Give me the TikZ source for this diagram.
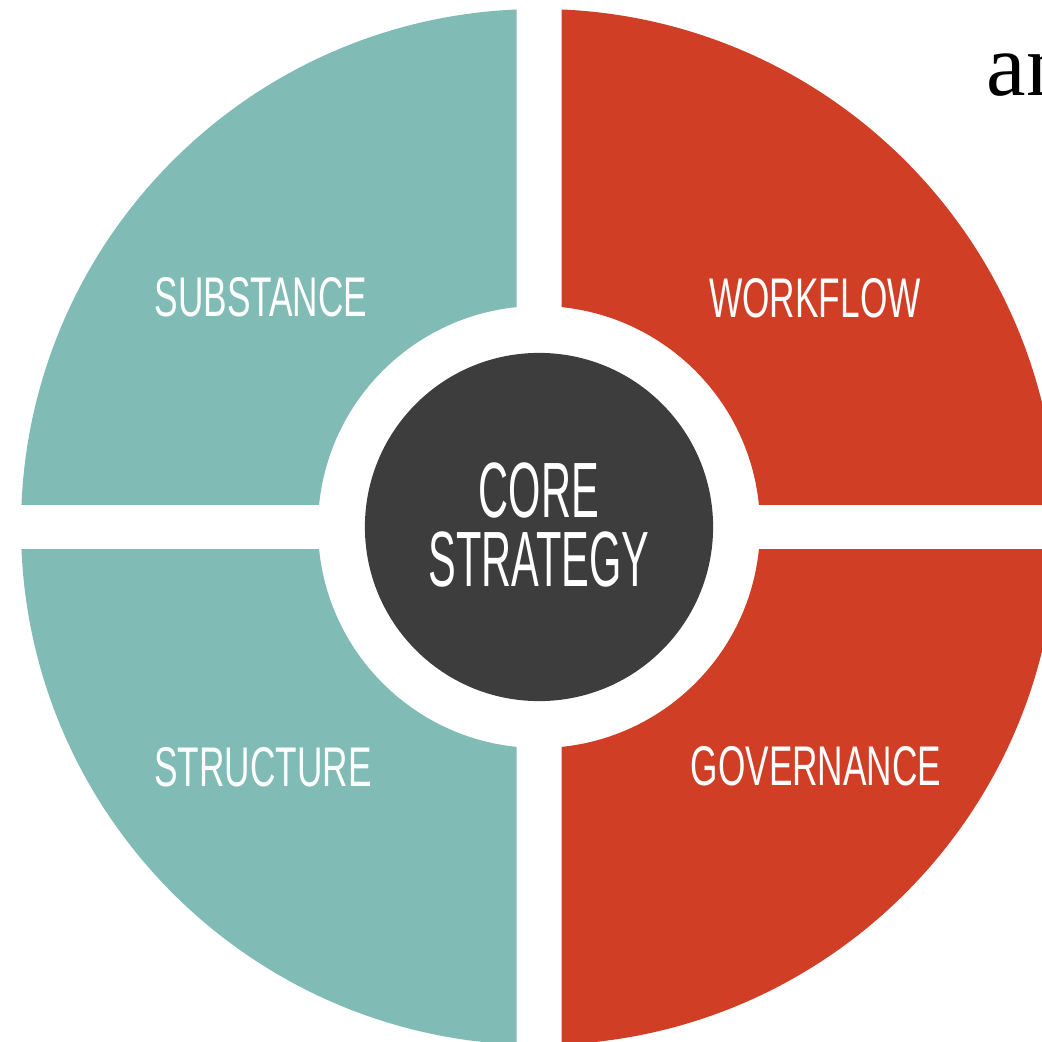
\documentclass[tikz,border=0pt]{standalone}
\usepackage{fontspec}
\setmainfont{Liberation Sans}
\newfontfamily\serifan{Liberation Serif}
\definecolor{quadteal}{HTML}{80BCB5}
\definecolor{quadred}{HTML}{D03E26}
\definecolor{coregray}{HTML}{3D3D3D}
\tikzset{
  quadlabel/.style={text=white,inner sep=0,font=\fontsize{15.9}{18}\selectfont,xscale=.63,transform shape},
  coredisc/.style={circle,fill=coregray,minimum size=3.48cm,inner sep=0},
  corelabel/.style={text=white,align=center,inner sep=0,font=\fontsize{22.3}{19.6}\selectfont,xscale=.53,transform shape}
}
\begin{document}
\begin{tikzpicture}[x=.01cm,y=.01cm]
\useasboundingbox (0,0) rectangle (1042,1041);
\clip (0,0) rectangle (1042,1041);
\coordinate (c) at (539,514);
% four quarter rings, white cross and inner ring left as gaps
\foreach \sx/\sy/\col in {-1/1/quadteal,1/1/quadred,-1/-1/quadteal,1/-1/quadred}{
  \begin{scope}
    \clip[shift={(c)}] (\sx*22.5,\sy*22.5) rectangle (\sx*600,\sy*600);
    \fill[\col,even odd rule] (c) circle (518) (c) circle (221);
  \end{scope}
}
\node[coredisc] (core) at (c) {};
\node[corelabel] (corename) at (539,516) {CORE\\STRATEGY};
\node[quadlabel] (substance) at (261,744) {SUBSTANCE};
\node[quadlabel] (workflow) at (815,743) {WORKFLOW};
\node[quadlabel] (structure) at (263,274) {STRUCTURE};
\node[quadlabel] (governance) at (816,275) {GOVERNANCE};
\node[font=\serifan\fontsize{25.3}{30}\selectfont,anchor=base west,inner sep=0] (an) at (986,946) {an};
\end{tikzpicture}
\end{document}
